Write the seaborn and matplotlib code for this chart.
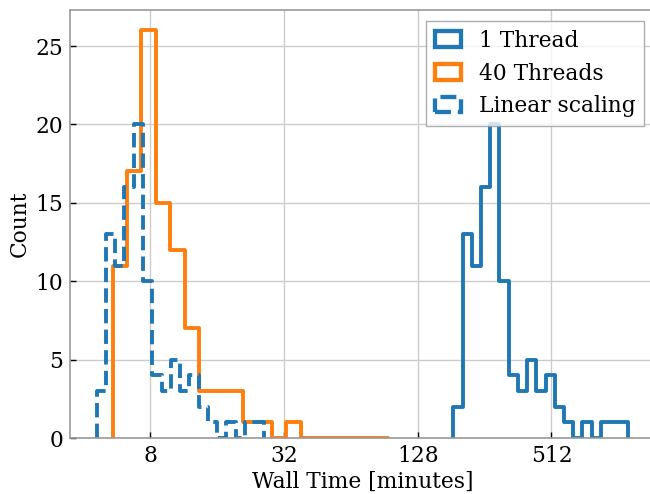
import numpy as np
import pandas as pd
import matplotlib
matplotlib.use("Agg")
import matplotlib.pyplot as plt
from matplotlib.patches import Patch
from matplotlib.ticker import FixedLocator, NullLocator
import seaborn as sns

# counts per bin (equal widths in log space)
one_thread_counts = [2, 13, 11, 16, 20, 10, 4, 3, 5, 3, 4, 2, 1, 0, 1, 0, 1, 1, 1]
one_thread_range = (185.3, 1136.0)   # minutes, first and last bin edge

forty_threads_counts = [11, 17, 26, 15, 12, 7, 3, 3, 3, 1, 1, 0, 1, 0, 0, 0, 0, 0, 0]
forty_threads_range = (5.41, 93.9)

linear_counts = [3, 13, 11, 16, 20, 10, 4, 3, 5, 3, 4, 2, 1, 0, 1, 0, 1, 1]
linear_range = (4.59, 25.9)

xticks = [8, 32, 128, 512]
labels = ["1 Thread", "40 Threads", "Linear scaling"]
colors = ["#1f77b4", "#ff7f0e", "#1f77b4"]
styles = ["-", "-", "--"]
FS = 15.7
LW = 2.8


def make_bins(counts, rng):
    edges = np.logspace(np.log2(rng[0]), np.log2(rng[1]), len(counts) + 1, base=2)
    centers = np.sqrt(edges[:-1] * edges[1:])
    return pd.DataFrame({"t": centers, "n": counts}), edges


sns.set_theme(style="whitegrid")
plt.rcParams["font.family"] = ["DejaVu Serif"]
plt.rcParams["text.color"] = "black"
plt.rcParams["axes.labelcolor"] = "black"
plt.rcParams["xtick.color"] = "black"
plt.rcParams["ytick.color"] = "black"

fig = plt.figure(figsize=(6.5, 4.94), dpi=100)
ax = fig.add_axes([70 / 650, 56 / 494, 585 / 650, 428 / 494])
ax.set_xscale("log", base=2)

series = [(one_thread_counts, one_thread_range),
          (forty_threads_counts, forty_threads_range),
          (linear_counts, linear_range)]
for (counts, rng), c, ls in zip(series, colors, styles):
    df, edges = make_bins(counts, rng)
    sns.histplot(data=df, x="t", weights="n", bins=np.log2(edges).tolist(),
                 element="step", fill=False, color=c, linestyle=ls,
                 linewidth=LW, ax=ax)
    # close the outline down to the baseline like a step histogram
    line = ax.lines[-1]
    x, y = line.get_data()
    line.set_data(np.r_[x[0], x, x[-1]], np.r_[0, y, 0])

ax.set_xlim(2 ** 1.80, 2 ** 10.548)
ax.set_ylim(0, 27.3)
ax.xaxis.set_major_locator(FixedLocator(xticks))
ax.set_xticklabels([str(t) for t in xticks])
ax.xaxis.set_minor_locator(NullLocator())
ax.set_yticks([0, 5, 10, 15, 20, 25])

ax.set_xlabel("Wall Time [minutes]", fontsize=FS, labelpad=3)
ax.set_ylabel("Count", fontsize=FS, labelpad=3)
ax.tick_params(axis="both", direction="in", labelsize=FS, length=4,
               width=1, color="black", bottom=True, left=True, pad=5)
ax.grid(True, color="#cccccc", linewidth=1)
for s in ax.spines.values():
    s.set_color("#999999")
    s.set_linewidth(1.2)

handles = [Patch(facecolor="none", edgecolor=c, linestyle=ls, linewidth=LW + 0.3, label=l)
           for l, c, ls in zip(labels, colors, styles)]
leg = ax.legend(handles=handles, loc="upper right", fontsize=FS, fancybox=False,
                framealpha=0.8, edgecolor="#999999", borderaxespad=0.5,
                handlelength=1.2, labelspacing=0.5)

fig.savefig("out.png", dpi=100)
